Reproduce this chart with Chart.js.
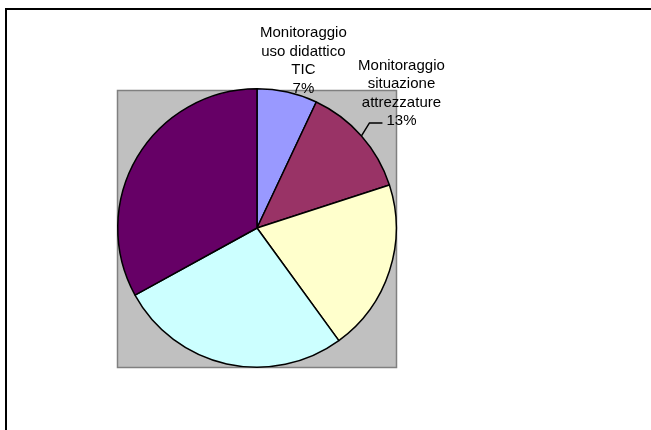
<!DOCTYPE html>
<html>
<head>
<meta charset="utf-8">
<script src="https://cdn.jsdelivr.net/npm/chart.js@4/dist/chart.umd.min.js"></script>
<style>
  html, body { margin: 0; padding: 0; background: #fff; }
  #wrap { width: 651px; height: 430px; position: relative; }
</style>
</head>
<body>
<div id="wrap"><canvas id="pieChart" width="651" height="430"></canvas></div>
<script>
// only the first two slices carry a label in the picture
const categories = [
  ["Monitoraggio", "uso didattico", "TIC"],
  ["Monitoraggio", "situazione", "attrezzature"],
  [],
  [],
  []
];
const shares = [7, 13, 20, 27, 33];
const sliceColors = ["#9999FF", "#993366", "#FFFFCC", "#CCFFFF", "#660066"];

const frameAndLabels = {
  id: "frameAndLabels",
  beforeDraw(chart) {
    const ctx = chart.ctx;
    const a = chart.chartArea;
    ctx.save();
    // outer frame (only top and left edges visible)
    ctx.strokeStyle = "#000";
    ctx.lineWidth = 2;
    ctx.beginPath();
    ctx.moveTo(6, 440);
    ctx.lineTo(6, 9);
    ctx.lineTo(660, 9);
    ctx.stroke();
    // grey plot area
    ctx.fillStyle = "#C0C0C0";
    ctx.fillRect(a.left, a.top + 2, a.right - a.left, a.bottom - a.top - 2);
    ctx.strokeStyle = "#808080";
    ctx.lineWidth = 1.5;
    ctx.strokeRect(a.left + 0.5, a.top + 2.5, a.right - a.left - 1, a.bottom - a.top - 3);
    ctx.restore();
  },
  afterDatasetsDraw(chart) {
    const ctx = chart.ctx;
    const arcs = chart.getDatasetMeta(0).data;
    ctx.save();
    ctx.font = "15px 'Liberation Sans', Arial, sans-serif";
    ctx.fillStyle = "#000";
    ctx.textAlign = "center";
    ctx.textBaseline = "middle";
    const lh = 18.5;

    // slice 0: text block sits just above the slice
    {
      const arc = arcs[0];
      const mid = (arc.startAngle + arc.endAngle) / 2;
      const ex = arc.x + Math.cos(mid) * arc.outerRadius;
      const ey = arc.y + Math.sin(mid) * arc.outerRadius;
      const lines = categories[0].concat([shares[0] + "%"]);
      const cx = ex + 16;
      const by = ey - 3.5;
      lines.forEach((t, i) => ctx.fillText(t, cx, by - (lines.length - 1 - i) * lh));
    }

    // slice 1: text block with leader line
    {
      const arc = arcs[1];
      const mid = (arc.startAngle + arc.endAngle) / 2;
      const ex = arc.x + Math.cos(mid) * arc.outerRadius;
      const ey = arc.y + Math.sin(mid) * arc.outerRadius;
      ctx.strokeStyle = "#000";
      ctx.lineWidth = 1.5;
      ctx.beginPath();
      ctx.moveTo(ex, ey);
      ctx.lineTo(ex + 8, ey - 13);
      ctx.lineTo(ex + 21, ey - 13);
      ctx.stroke();
      const lines = categories[1].concat([shares[1] + "%"]);
      const cx = ex + 40;
      const by = ey - 15;
      lines.forEach((t, i) => ctx.fillText(t, cx, by - (lines.length - 1 - i) * lh));
    }
    ctx.restore();
  }
};

new Chart(document.getElementById("pieChart").getContext("2d"), {
  type: "pie",
  data: {
    labels: categories.map(c => c.join(" ")),
    datasets: [{
      data: shares,
      backgroundColor: sliceColors,
      borderColor: "#000",
      borderWidth: 1.5
    }]
  },
  options: {
    responsive: false,
    animation: false,
    layout: { padding: { left: 117, right: 254, top: 88, bottom: 62 } },
    plugins: {
      legend: { display: false },
      tooltip: { enabled: false }
    }
  },
  plugins: [frameAndLabels]
});
</script>
</body>
</html>
